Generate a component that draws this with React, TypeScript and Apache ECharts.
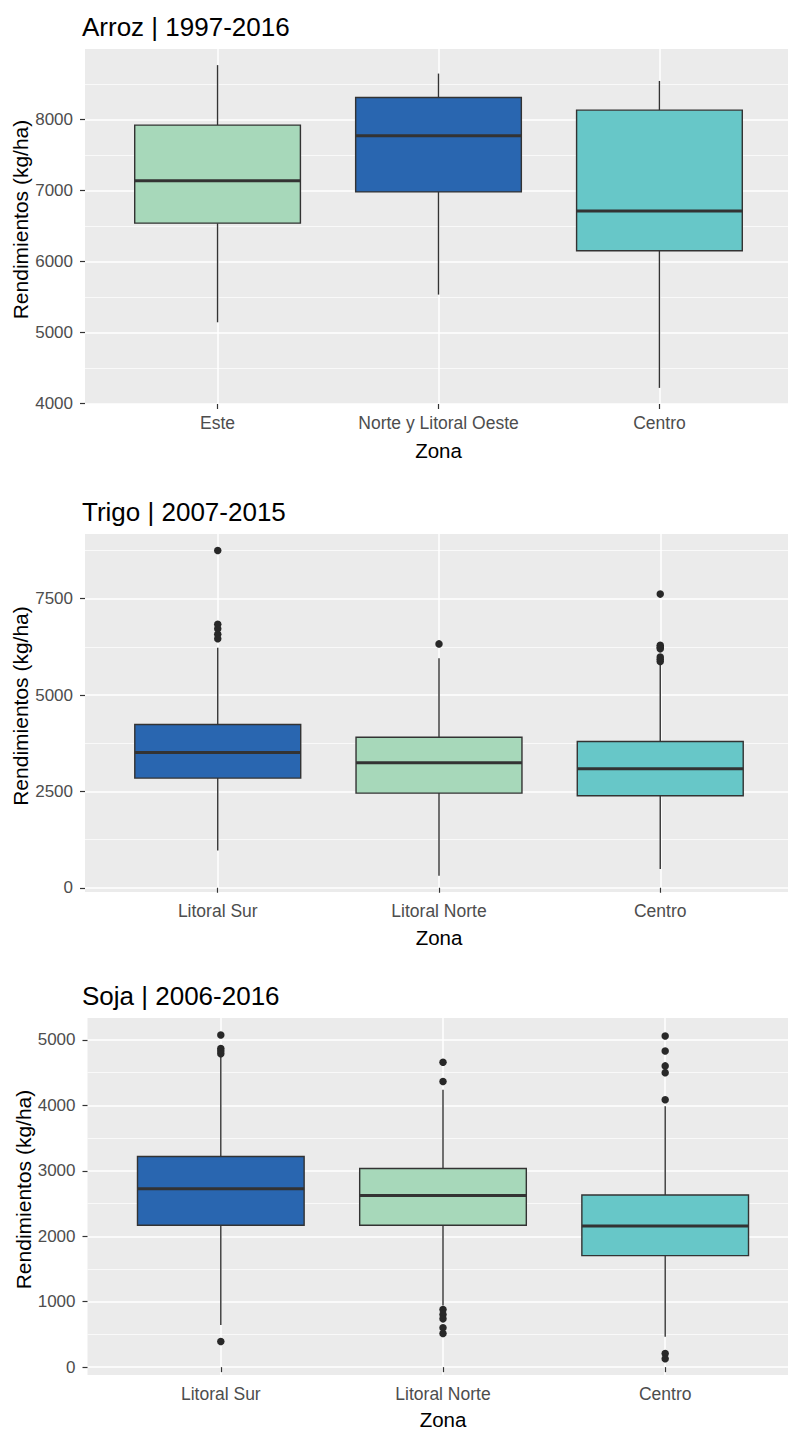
import React, { useEffect, useRef } from "react";
import * as echarts from "echarts";

const FONT = '"Liberation Sans", Arial, Helvetica, sans-serif';

// ---------- Arroz ----------
const arrozTitle = "Arroz | 1997-2016";
const arrozZonas = ["Este", "Norte y Litoral Oeste", "Centro"];
const arrozMin = [5143, 5533, 4219];
const arrozQ1 = [6539, 6979, 6150];
const arrozMedian = [7138, 7770, 6712];
const arrozQ3 = [7920, 8309, 8131];
const arrozMax = [8765, 8646, 8542];
const arrozOutliers: number[][] = [[], [], []];
const arrozTicks = [4000, 5000, 6000, 7000, 8000];
const arrozMinorTicks = [4500, 5500, 6500, 7500, 8500];

// ---------- Trigo ----------
const trigoTitle = "Trigo | 2007-2015";
const trigoZonas = ["Litoral Sur", "Litoral Norte", "Centro"];
const trigoMin = [964, 313, 487];
const trigoQ1 = [2846, 2456, 2388];
const trigoMedian = [3508, 3242, 3091];
const trigoQ3 = [4237, 3906, 3794];
const trigoMax = [6230, 5955, 5790];
const trigoOutliers: number[][] = [
  [8750, 6840, 6720, 6580, 6460],
  [6328],
  [7620, 6290, 6240, 6200, 5990, 5930, 5870],
];
const trigoTicks = [0, 2500, 5000, 7500];
const trigoMinorTicks = [1250, 3750, 6250, 8750];

// ---------- Soja ----------
const sojaTitle = "Soja | 2006-2016";
const sojaZonas = ["Litoral Sur", "Litoral Norte", "Centro"];
const sojaMin = [643, 941, 463];
const sojaQ1 = [2168, 2168, 1704];
const sojaMedian = [2726, 2623, 2157];
const sojaQ3 = [3218, 3035, 2630];
const sojaMax = [4756, 4237, 3985];
const sojaOutliers: number[][] = [
  [5076, 4870, 4830, 4790, 392],
  [4660, 4364, 880, 804, 738, 601, 514],
  [5061, 4832, 4603, 4500, 4087, 209, 128],
];
const sojaTicks = [0, 1000, 2000, 3000, 4000, 5000];
const sojaMinorTicks = [500, 1500, 2500, 3500, 4500];

const xAxisTitle = "Zona";
const yAxisTitle = "Rendimientos (kg/ha)";

const BLUE = "#2966B0";
const GREEN = "#A7D8BA";
const TEAL = "#67C7C8";

const panels = [
  {
    title: arrozTitle, zonas: arrozZonas,
    stats: [arrozMin, arrozQ1, arrozMedian, arrozQ3, arrozMax],
    outliers: arrozOutliers, ticks: arrozTicks, minor: arrozMinorTicks,
    colors: [GREEN, BLUE, TEAL],
    yMin: 3992, yMax: 8992,
    left: 85, top: 49, width: 707, height: 355, titleTop: 14, zonaGap: 36,
  },
  {
    title: trigoTitle, zonas: trigoZonas,
    stats: [trigoMin, trigoQ1, trigoMedian, trigoQ3, trigoMax],
    outliers: trigoOutliers, ticks: trigoTicks, minor: trigoMinorTicks,
    colors: [BLUE, GREEN, TEAL],
    yMin: -110, yMax: 9180,
    left: 85, top: 534, width: 708, height: 358, titleTop: 499, zonaGap: 35,
  },
  {
    title: sojaTitle, zonas: sojaZonas,
    stats: [sojaMin, sojaQ1, sojaMedian, sojaQ3, sojaMax],
    outliers: sojaOutliers, ticks: sojaTicks, minor: sojaMinorTicks,
    colors: [BLUE, GREEN, TEAL],
    yMin: -120, yMax: 5335,
    left: 87.5, top: 1018, width: 711, height: 357, titleTop: 983, zonaGap: 34,
  },
];

const DARK = "#333333";

function buildOption() {
  const title: any[] = [];
  const grid: any[] = [];
  const xAxis: any[] = [];
  const yAxis: any[] = [];
  const series: any[] = [];

  panels.forEach((p, k) => {
    title.push({
      text: p.title,
      left: 82,
      top: p.titleTop,
      padding: 0,
      textStyle: { fontSize: 26, fontWeight: "normal", color: "#000", fontFamily: FONT },
    });
    grid.push({
      left: p.left,
      top: p.top,
      width: p.width,
      height: p.height,
      show: true,
      backgroundColor: "#EBEBEB",
      borderWidth: 0,
      containLabel: false,
      outerBoundsMode: "none",
    });
    const cats = [1, 2, 3];
    xAxis.push({
      type: "value",
      gridIndex: k,
      min: 0.4,
      max: 3.6,
      name: xAxisTitle,
      nameLocation: "middle",
      nameGap: p.zonaGap,
      nameMoveOverlap: false,
      nameTextStyle: { fontSize: 20.5, lineHeight: 20, color: "#000", fontFamily: FONT },
      axisLine: { show: false },
      axisTick: { show: true, length: 5, customValues: cats, lineStyle: { color: DARK, width: 1.2 } },
      axisLabel: {
        customValues: cats,
        formatter: (v: number) => p.zonas[Math.round(v) - 1] ?? "",
        fontSize: 17.5,
        color: "#4D4D4D",
        fontFamily: FONT,
        margin: 10,
      },
      splitLine: { show: true, lineStyle: { color: "#FFFFFF", width: 1.5 } },
    });
    yAxis.push({
      type: "value",
      gridIndex: k,
      min: p.yMin,
      max: p.yMax,
      name: yAxisTitle,
      nameLocation: "middle",
      nameGap: 54,
      nameRotate: 90,
      nameMoveOverlap: false,
      nameTextStyle: { fontSize: 21, color: "#000", fontFamily: FONT, padding: [0, 0, 0, 14] },
      axisLine: { show: false },
      axisTick: { show: true, length: 5, customValues: p.ticks, lineStyle: { color: DARK, width: 1.2 } },
      axisLabel: {
        customValues: p.ticks,
        formatter: (v: number) => String(Math.round(v)),
        fontSize: 17,
        color: "#4D4D4D",
        fontFamily: FONT,
        margin: 12,
      },
      splitLine: { show: true, lineStyle: { color: "#FFFFFF", width: 1.5 } },
    });
    yAxis.push({
      type: "value",
      gridIndex: k,
      min: p.yMin,
      max: p.yMax,
      position: "left",
      axisLine: { show: false },
      axisTick: { show: false, customValues: p.minor },
      axisLabel: { show: false, customValues: p.minor },
      splitLine: { show: true, lineStyle: { color: "#FFFFFF", width: 0.7 } },
    });

    const boxData = p.zonas.map((_, i) => [
      i + 1, p.stats[0][i], p.stats[1][i], p.stats[2][i], p.stats[3][i], p.stats[4][i],
    ]);
    const colors = p.colors;
    series.push({
      type: "custom",
      xAxisIndex: k,
      yAxisIndex: 2 * k,
      data: boxData,
      encode: { x: 0, y: [1, 2, 3, 4, 5] },
      z: 3,
      renderItem: (params: any, api: any) => {
        const x = api.value(0);
        const pMin = api.coord([x, api.value(1)]);
        const pQ1 = api.coord([x, api.value(2)]);
        const pMed = api.coord([x, api.value(3)]);
        const pQ3 = api.coord([x, api.value(4)]);
        const pMax = api.coord([x, api.value(5)]);
        const cx = pMin[0];
        const half = api.size([0.75, 0])[0] / 2;
        const color = colors[params.dataIndex];
        const lineStyle = { stroke: DARK, lineWidth: 1.4 };
        return {
          type: "group",
          children: [
            { type: "line", shape: { x1: cx, y1: pMax[1], x2: cx, y2: pQ3[1] }, style: lineStyle },
            { type: "line", shape: { x1: cx, y1: pQ1[1], x2: cx, y2: pMin[1] }, style: lineStyle },
            {
              type: "rect",
              shape: { x: cx - half, y: pQ3[1], width: 2 * half, height: pQ1[1] - pQ3[1] },
              style: { fill: color, stroke: DARK, lineWidth: 1.4 },
            },
            {
              type: "line",
              shape: { x1: cx - half, y1: pMed[1], x2: cx + half, y2: pMed[1] },
              style: { stroke: DARK, lineWidth: 3 },
            },
          ],
        };
      },
    });
    const outData: number[][] = [];
    p.outliers.forEach((arr, i) => arr.forEach((v) => outData.push([i + 1, v])));
    series.push({
      type: "scatter",
      xAxisIndex: k,
      yAxisIndex: 2 * k,
      data: outData,
      symbol: "circle",
      symbolSize: 7.5,
      itemStyle: { color: "#282828", opacity: 1 },
      z: 4,
    });
  });

  return {
    animation: false,
    backgroundColor: "#FFFFFF",
    textStyle: { fontFamily: FONT },
    title,
    grid,
    xAxis,
    yAxis,
    series,
  };
}

export default function App() {
  const ref = useRef<HTMLDivElement>(null);
  useEffect(() => {
    document.body.style.margin = "0";
    if (!ref.current) return;
    const chart = echarts.init(ref.current, undefined, { renderer: "svg" });
    chart.setOption(buildOption() as any);
    return () => chart.dispose();
  }, []);
  return <div ref={ref} style={{ width: 788, height: 1430 }} />;
}
